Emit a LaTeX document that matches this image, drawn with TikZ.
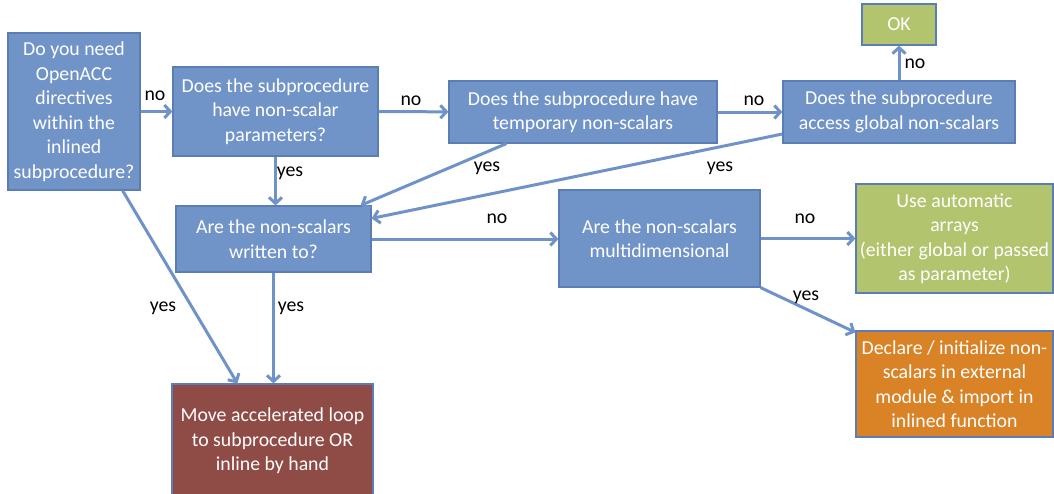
\documentclass[tikz,border=0pt]{standalone}
\usepackage{fontspec}
\setmainfont{Carlito}
\usetikzlibrary{arrows.meta}
\usepackage{xcolor}
\definecolor{boxblue}{HTML}{7093C8}
\definecolor{boxgreen}{HTML}{B3C46F}
\definecolor{boxorange}{HTML}{D98226}
\definecolor{boxbrown}{HTML}{8F4B45}
\definecolor{boxline}{HTML}{5A7DB5}
\definecolor{flowline}{HTML}{6F93C8}

\begin{document}
\begin{tikzpicture}[x=1pt,y=-1pt]
% flowchart: when can a subprocedure be inlined with OpenACC
    \tikzstyle{box}=[rectangle, draw=boxline, line width=1.2pt, fill=boxblue, text=white, align=center, inner sep=2pt, font=\fontsize{19.8}{24.5}\selectfont]
    \tikzstyle{question}=[box]
    \tikzstyle{good}=[box, fill=boxgreen]
    \tikzstyle{work}=[box, fill=boxorange]
    \tikzstyle{bad}=[box, fill=boxbrown]
    \tikzstyle{flow}=[draw=flowline, line width=3pt, -{Straight Barb[length=6pt,width=13pt,line width=3pt]}]
    \tikzstyle{lbl}=[font=\fontsize{19.8}{24}\selectfont, inner sep=0pt]

    \useasboundingbox (0,0) rectangle (1054,493);

    \node[question, minimum width=132pt, minimum height=157pt] (Q1) at (74,111.5) {Do you need\\OpenACC\\directives\\within the\\inlined\\subprocedure?};
    \node[question, minimum width=205pt, minimum height=89pt] (Q2) at (275.5,111.5) {Does the subprocedure\\have non-scalar\\parameters?};
    \node[question, minimum width=268pt, minimum height=62pt] (Q3) at (583,112) {Does the subprocedure have\\temporary non-scalars};
    \node[question, minimum width=232pt, minimum height=62pt] (Q4) at (899,112) {Does the subprocedure\\access global non-scalars};
    \node[good, minimum width=74pt, minimum height=41pt] (OK) at (899,24.5) {OK};
    \node[question, minimum width=195pt, minimum height=66pt] (Q5) at (273.5,239) {Are the non-scalars\\written to?};
    \node[question, minimum width=201pt, minimum height=97pt] (Q6) at (659.5,238.5) {Are the non-scalars\\multidimensional};
    \node[good, minimum width=197pt, minimum height=109pt] (auto) at (954.5,238.5) {Use automatic\\arrays\\(either global or passed\\as parameter)};
    \node[work, minimum width=197pt, minimum height=106pt] (module) at (954.5,384) {Declare / initialize non-\\scalars in external\\module \& import in\\inlined function};
    \node[bad, minimum width=201pt, minimum height=114pt] (byhand) at (272.5,441) {Move accelerated loop\\to subprocedure OR\\inline by hand};

    \path[flow] (Q1) -- (Q2);
    \path[flow] (Q2) -- (Q3);
    \path[flow] (Q3) -- (Q4);
    \path[flow] (Q4) -- (OK);
    \path[flow] (Q2.south) -- (Q2.south |- Q5.north);
    \path[flow] ([xshift=58pt]Q3.south west) -- ([xshift=-11pt]Q5.north east);
    \path[flow] ([yshift=-22pt]Q4.west) -- ([yshift=-13pt]Q5.north east);
    \path[flow] (Q5.east) -- (Q5.east -| Q6.west);
    \path[flow] (Q6.east) -- (Q6.east -| auto.west);
    \path[flow] (Q6.south east) -- ([yshift=-2pt]module.north west);
    \path[flow] (Q5.south) -- (Q5.south |- byhand.north);
    \path[flow] ([xshift=-18pt]Q1.south east) -- ([xshift=66pt]byhand.north west);

    \node[lbl] (no-1) at (155,96) {no};
    \node[lbl] (no-2) at (411,101) {no};
    \node[lbl] (no-3) at (754,101) {no};
    \node[lbl] (no-4) at (915,64) {no};
    \node[lbl] (no-5) at (497,219) {no};
    \node[lbl] (no-6) at (805,219) {no};
    \node[lbl] (yes-1) at (290,173) {yes};
    \node[lbl] (yes-2) at (487,168) {yes};
    \node[lbl] (yes-3) at (720,168) {yes};
    \node[lbl] (yes-4) at (806,297) {yes};
    \node[lbl] (yes-5) at (291,308) {yes};
    \node[lbl] (yes-6) at (163,308) {yes};
\end{tikzpicture}
\end{document}
